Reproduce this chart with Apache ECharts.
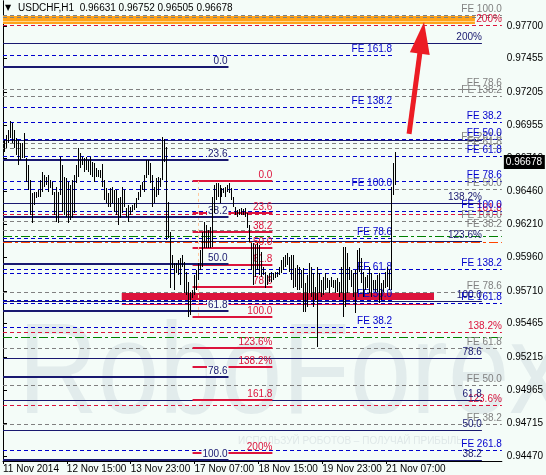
<!DOCTYPE html>
<html>
<head>
<meta charset="utf-8">
<script src="https://cdn.jsdelivr.net/npm/echarts@6.0.0/dist/echarts.min.js"></script>
<style>
html, body { margin: 0; padding: 0; background: #f4fcf8; }
#chart { width: 546px; height: 475px; }
</style>
</head>
<body>
<div id="chart"></div>
<script>
// USDCHF H1 with fibo levels, 11-21 Nov 2014
var symbol = 'USDCHF,H1';
var lastBar = [0.96631, 0.96752, 0.96505, 0.96678]; // open, high, low, close

var timeLabels = ['11 Nov 2014', '12 Nov 15:00', '13 Nov 23:00', '17 Nov 07:00', '18 Nov 15:00', '19 Nov 23:00', '21 Nov 07:00'];
var timeTickBars = [0, 32, 64, 96, 128, 160, 192];
var priceTicks = [0.97700, 0.97455, 0.97205, 0.96955, 0.96710, 0.96460, 0.96210, 0.95960, 0.95710, 0.95465, 0.95215, 0.94965, 0.94715, 0.94470];

var barHigh = [
  0.96844, 0.96881, 0.96919, 0.96986, 0.96971, 0.96919, 0.96859, 0.96844, 0.96821, 0.96821,
  0.96896, 0.96708, 0.96656, 0.96543, 0.96446, 0.96453, 0.96453, 0.96468, 0.96543, 0.96603,
  0.96581, 0.96566, 0.96581, 0.96543, 0.96528, 0.96453, 0.96491, 0.96453, 0.96716, 0.96656,
  0.96566, 0.96558, 0.96528, 0.96506, 0.96543, 0.96581, 0.96656, 0.96784, 0.96746, 0.96716,
  0.96708, 0.96716, 0.96693, 0.96716, 0.96678, 0.96671, 0.96633, 0.96618, 0.96618, 0.96663,
  0.96543, 0.96483, 0.96446, 0.96483, 0.96491, 0.96468, 0.96468, 0.96408, 0.96416, 0.96491,
  0.96468, 0.96333, 0.96355, 0.96340, 0.96355, 0.96370, 0.96408, 0.96453, 0.96506, 0.96528,
  0.96581, 0.96693, 0.96693, 0.96671, 0.96581, 0.96491, 0.96558, 0.96566, 0.96558, 0.96866,
  0.96851, 0.96791, 0.96378, 0.96153, 0.95980, 0.95920, 0.95920, 0.95942, 0.95957, 0.95980,
  0.95927, 0.95852, 0.95777, 0.95702, 0.95717, 0.95830, 0.95867, 0.95920, 0.96018, 0.96153,
  0.96228, 0.96205, 0.96168, 0.96190, 0.96416, 0.96506, 0.96521, 0.96521, 0.96506, 0.96483,
  0.96483, 0.96491, 0.96506, 0.96521, 0.96483, 0.96416, 0.96340, 0.96318, 0.96325, 0.96333,
  0.96325, 0.96333, 0.96295, 0.96205, 0.96070, 0.96070, 0.96055, 0.96070, 0.96055, 0.96003,
  0.95890, 0.95852, 0.95830, 0.95845, 0.95852, 0.95845, 0.95852, 0.95852, 0.95890, 0.95942,
  0.95965, 0.95980, 0.95995, 0.95965, 0.95980, 0.95980, 0.95882, 0.95905, 0.95890, 0.95867,
  0.95882, 0.95770, 0.95830, 0.95920, 0.95890, 0.95845, 0.95740, 0.95890, 0.95845, 0.95792,
  0.95815, 0.95845, 0.95807, 0.95792, 0.95815, 0.95792, 0.95792, 0.95807, 0.95777, 0.95890,
  0.96040, 0.96040, 0.95995, 0.95890, 0.95867, 0.95845, 0.95867, 0.96018, 0.96033, 0.95957,
  0.95852, 0.95815, 0.95830, 0.95890, 0.95845, 0.95792, 0.95792, 0.95830, 0.95845, 0.95770,
  0.95792, 0.95852, 0.95890, 0.95867, 0.96491, 0.96671, 0.96752
];
var barLow = [
  0.96754, 0.96784, 0.96821, 0.96859, 0.96821, 0.96784, 0.96731, 0.96656, 0.96693, 0.96708,
  0.96708, 0.96528, 0.96468, 0.96280, 0.96220, 0.96355, 0.96408, 0.96416, 0.96416, 0.96453,
  0.96491, 0.96506, 0.96453, 0.96483, 0.96431, 0.96280, 0.96228, 0.96220, 0.96431, 0.96303,
  0.96280, 0.96265, 0.96220, 0.96243, 0.96258, 0.96295, 0.96521, 0.96566, 0.96633, 0.96656,
  0.96603, 0.96618, 0.96603, 0.96581, 0.96566, 0.96528, 0.96566, 0.96566, 0.96558, 0.96491,
  0.96393, 0.96370, 0.96340, 0.96340, 0.96370, 0.96303, 0.96280, 0.96205, 0.96258, 0.96295,
  0.96340, 0.96265, 0.96228, 0.96280, 0.96303, 0.96318, 0.96333, 0.96393, 0.96416, 0.96468,
  0.96453, 0.96558, 0.96581, 0.96521, 0.96340, 0.96370, 0.96416, 0.96431, 0.96491, 0.96543,
  0.96678, 0.96093, 0.96108, 0.95732, 0.95882, 0.95717, 0.95845, 0.95830, 0.95755, 0.95890,
  0.95695, 0.95680, 0.95514, 0.95529, 0.95657, 0.95680, 0.95717, 0.95792, 0.95867, 0.95890,
  0.96033, 0.96033, 0.96033, 0.96033, 0.96040, 0.96295, 0.96393, 0.96416, 0.96370, 0.96416,
  0.96446, 0.96416, 0.96453, 0.96446, 0.96393, 0.96340, 0.96280, 0.96265, 0.96280, 0.96280,
  0.96280, 0.96265, 0.96183, 0.96078, 0.95867, 0.95755, 0.95815, 0.95867, 0.95830, 0.95815,
  0.95830, 0.95732, 0.95755, 0.95777, 0.95777, 0.95792, 0.95807, 0.95815, 0.95830, 0.95845,
  0.95867, 0.95890, 0.95905, 0.95852, 0.95792, 0.95732, 0.95740, 0.95717, 0.95717, 0.95732,
  0.95552, 0.95552, 0.95589, 0.95695, 0.95665, 0.95589, 0.95642, 0.95289, 0.95695, 0.95665,
  0.95680, 0.95717, 0.95732, 0.95695, 0.95740, 0.95732, 0.95695, 0.95702, 0.95665, 0.95695,
  0.95514, 0.95589, 0.95695, 0.95792, 0.95740, 0.95665, 0.95544, 0.95695, 0.95852, 0.95770,
  0.95665, 0.95717, 0.95732, 0.95695, 0.95665, 0.95717, 0.95702, 0.95702, 0.95619, 0.95642,
  0.95702, 0.95732, 0.95740, 0.95717, 0.95717, 0.96431, 0.96505
];

// fibo retracement (navy, thick)
var navyFiboLevels = [0.97392, 0.96693, 0.96265, 0.95912, 0.95559, 0.95064, 0.94440];
var navyFiboLabels = ['0.0', '23.6', '38.2', '50.0', '61.8', '78.6', '100.0'];
// fibo retracement (red)
var redFiboLevels = [0.96536, 0.96295, 0.96153, 0.96033, 0.95905, 0.95740, 0.95514, 0.95282, 0.95139, 0.94891, 0.94493];
var redFiboLabels = ['0.0', '23.6', '38.2', '50.0', '61.8', '78.6', '100.0', '123.6%', '138.2%', '161.8', '200%'];
// fibo expansion, blue, short
var feShortLevels = [0.97482, 0.97091, 0.96476, 0.96108, 0.95845, 0.95642, 0.95439];
var feShortLabels = ['FE 161.8', 'FE 138.2', 'FE 100.0', 'FE 78.6', 'FE 61.8', 'FE 50.0', 'FE 38.2'];
// fibo expansion, blue, to the right edge
var feLongLevels = [0.96979, 0.96851, 0.96723, 0.96536, 0.96310, 0.95875, 0.95620, 0.94516];
var feLongLabels = ['FE 38.2', 'FE 50.0', 'FE 61.8', 'FE 78.6', 'FE 100.0', 'FE 138.2', 'FE 161.8', 'FE 261.8'];
// fibo expansion, gray
var feGrayLevels = [0.97782, 0.97767, 0.97227, 0.97174, 0.96821, 0.96784, 0.96476, 0.96235, 0.96168, 0.95702, 0.95282, 0.95004, 0.94711];
var feGrayLabels = ['FE 100.0', '', 'FE 78.6', 'FE 138.2', 'FE 261.8', 'FE 61.8', 'FE 50.0', 'FE 100.0', 'FE 38.2', 'FE 78.6', 'FE 61.8', 'FE 50.0', 'FE 38.2'];
// fibo expansion, navy thin
var navyThinLevels = [0.97572, 0.96844, 0.96371, 0.96085, 0.95635, 0.95206, 0.94891, 0.94666, 0.94440];
var navyThinLabels = ['200%', '', '138.2%', '123.6%', '100.0', '78.6', '61.8', '50.0', '38.2'];
// fibo expansion, red dashed
var redDashLevels = [0.97707, 0.96288, 0.95402, 0.94853];
var redDashLabels = ['200%', '161.8', '138.2%', '123.6%'];
// orders
var orderLevels = [0.96123, 0.96078, 0.95364, 0.94711];
var orderLabels = ['#9770318 buy 0.10', '#9770318 sl', '#9265962 buy 0.10', '#9402950 buy 0.10'];
var greenOrderLevels = [0.96123, 0.95364];
var stopLevels = [0.96078];
// zones
var orangeZone = [0.97775, 0.97715, 0.97737];
var redZone = [0.95695, 0.95642, 0.95612];
var retraceTrend = [97.5, 0.96536, 0.95514];
var arrowFromTo = [203.5, 0.96889, 211, 0.97730];

var FONT = '10px "Liberation Sans", Arial, sans-serif';
var BG = '#f4fcf8';
var chart = echarts.init(document.getElementById('chart'));

function levelSeries(levels, labels, o) {
  return {
    type: 'custom',
    silent: true,
    z: o.z || 3,
    data: levels.map(function (v, i) { return [o.from, v, i]; }),
    encode: { x: 0, y: 1 },
    renderItem: function (params, api) {
      var v = api.value(1), i = api.value(2);
      var a = api.coord([o.from, v]), b = api.coord([o.to, v]);
      var y = Math.round(a[1]) + (o.width % 2 ? 0.5 : 0);
      var kids = [];
      if (o.line !== false) {
        kids.push({
          type: 'line',
          shape: { x1: a[0], y1: y, x2: b[0], y2: y },
          style: { stroke: o.color, lineWidth: o.width, lineDash: o.dash || null }
        });
      }
      if (labels[i]) {
        var t = {
          text: labels[i], x: o.textX != null ? api.coord([o.textX, v])[0] : b[0], y: Math.round(a[1]) - Math.ceil(o.width / 2),
          fill: o.textColor || o.color, font: FONT,
          align: o.align || 'right', verticalAlign: 'bottom',
          textAlign: o.align || 'right', textVerticalAlign: 'bottom'
        };
        if (o.bg) { t.backgroundColor = o.bg; t.padding = [0, 1, 0, 1]; }
        kids.push({ type: 'text', z2: 5, style: t });
      }
      return { type: 'group', children: kids };
    }
  };
}

function zoneSeries(zone, x0, x1, fill, stripe) {
  return {
    type: 'custom', silent: true, z: 2,
    data: [[x0, zone[0]]],
    renderItem: function (params, api) {
      var a = api.coord([x0, zone[0]]), b = api.coord([x1, zone[1]]);
      var s = api.coord([x0, zone[2]]), e = api.coord([x1, zone[2]]);
      var sy = Math.round(s[1]) + 0.5;
      return { type: 'group', children: [
        { type: 'rect', shape: { x: a[0], y: a[1], width: b[0] - a[0], height: b[1] - a[1] }, style: { fill: fill } },
        { type: 'line', shape: { x1: s[0], y1: sy, x2: e[0], y2: sy }, style: { stroke: stripe, lineWidth: 1 } }
      ] };
    }
  };
}

var series = [];

// zones under everything
series.push(zoneSeries(orangeZone, 0, 236.5, '#ffa31a', '#ffd68a'));
series.push(zoneSeries(redZone, 59.5, 216, '#dc143c', '#dc143c'));

// fibo lines
series.push(levelSeries(feGrayLevels, feGrayLabels, { from: 0, to: 250, color: '#808080', width: 1, dash: [4, 3] }));
series.push(levelSeries(redDashLevels, redDashLabels, { from: 0, to: 250, color: '#dc143c', width: 1, dash: [4, 3] }));
series.push(levelSeries(feLongLevels, feLongLabels, { from: 0, to: 250, color: '#0000cd', width: 1, dash: [4, 3] }));
series.push(levelSeries(feShortLevels, feShortLabels, { from: 0, to: 195, color: '#0000cd', width: 1, dash: [4, 3] }));
series.push(levelSeries(greenOrderLevels, [], { from: 0, to: 250, color: '#008000', width: 1, dash: [9, 3, 3, 3] }));
series.push(levelSeries(stopLevels, [], { from: 0, to: 250, color: '#ff4500', width: 1, dash: [9, 3, 3, 3] }));
series.push(levelSeries(navyThinLevels, navyThinLabels, { from: 0, to: 240, color: '#191970', width: 1 }));
series.push(levelSeries(redFiboLevels, redFiboLabels, { from: 95, to: 135, color: '#dc143c', width: 2 }));
series.push(levelSeries(navyFiboLevels, navyFiboLabels, { from: 0, to: 113, color: '#191970', width: 2, bg: BG, z: 4 }));
series.push(levelSeries(orderLevels, orderLabels, { from: 3.5, to: 250, line: false, textX: 3.5, align: 'left', color: '#3a3a3a' }));

// retracement trend line
series.push({
  type: 'custom', silent: true, z: 3,
  data: [retraceTrend],
  renderItem: function (params, api) {
    var a = api.coord([retraceTrend[0], retraceTrend[1]]), b = api.coord([retraceTrend[0], retraceTrend[2]]);
    var x = Math.round(a[0]) + 0.5;
    return { type: 'line', shape: { x1: x, y1: a[1], x2: x, y2: b[1] }, style: { stroke: '#ffc9a0', lineWidth: 1, lineDash: [3, 3] } };
  }
});

// price bars
series.push({
  type: 'custom', silent: true, z: 6,
  data: barHigh.map(function (h, i) { return [i + 0.5, barLow[i], h]; }),
  encode: { x: 0, y: [1, 2] },
  renderItem: function (params, api) {
    var lo = api.coord([api.value(0), api.value(1)]);
    var hi = api.coord([api.value(0), api.value(2)]);
    var x = Math.round(lo[0]) + 0.5;
    return { type: 'line', shape: { x1: x, y1: Math.round(lo[1]), x2: x, y2: Math.round(hi[1]) }, style: { stroke: '#000', lineWidth: 1 } };
  }
});

// red arrow
series.push({
  type: 'custom', silent: true, z: 8,
  data: [arrowFromTo],
  renderItem: function (params, api) {
    var s = api.coord([arrowFromTo[0], arrowFromTo[1]]);
    var t = api.coord([arrowFromTo[2], arrowFromTo[3]]);
    var dx = t[0] - s[0], dy = t[1] - s[1], len = Math.sqrt(dx * dx + dy * dy);
    var ux = dx / len, uy = dy / len, nx = -uy, ny = ux;
    var head = 32, half = 10;
    var bx = t[0] - ux * head, by = t[1] - uy * head;
    return { type: 'group', children: [
      { type: 'line', shape: { x1: s[0], y1: s[1], x2: bx + ux * 3, y2: by + uy * 3 }, style: { stroke: '#ec1c24', lineWidth: 5 } },
      { type: 'polygon', shape: { points: [[t[0], t[1]], [bx + nx * half, by + ny * half], [bx - nx * half, by - ny * half]] }, style: { fill: '#ec1c24' } }
    ] };
  }
});

// current price box on the axis
series.push({
  type: 'custom', silent: true, z: 9, clip: false,
  data: [[250, lastBar[3]]],
  renderItem: function (params, api) {
    var p = api.coord([250, lastBar[3]]);
    var y = Math.round(p[1]);
    return { type: 'group', children: [
      { type: 'rect', shape: { x: p[0] + 2, y: y - 7, width: 41, height: 14 }, style: { fill: '#000' } },
      { type: 'text', style: { text: lastBar[3].toFixed(5), x: p[0] + 4, y: y, fill: '#fff', font: FONT, align: 'left', verticalAlign: 'middle', textAlign: 'left', textVerticalAlign: 'middle' } }
    ] };
  }
});

var option = {
  backgroundColor: BG,
  animation: false,
  grid: { left: 3, right: 43, top: 1, bottom: 14 },
  xAxis: {
    type: 'value', min: 0, max: 250,
    splitLine: { show: false },
    axisLine: { lineStyle: { color: '#000', width: 1 } },
    axisTick: { length: 3, lineStyle: { color: '#000' }, customValues: timeTickBars },
    axisLabel: {
      customValues: timeTickBars,
      color: '#000', fontFamily: 'Liberation Sans', fontSize: 10, align: 'left', margin: 3,
      formatter: function (v) { var k = timeTickBars.indexOf(Math.round(v)); return k >= 0 ? timeLabels[k] : ''; }
    }
  },
  yAxis: [{
    type: 'value', position: 'right', min: 0.94433, max: 0.97887, scale: true,
    splitLine: { show: false },
    axisLine: { show: true, lineStyle: { color: '#000', width: 1 } },
    axisTick: { show: true, length: 4, lineStyle: { color: '#000' }, customValues: priceTicks },
    axisLabel: {
      customValues: priceTicks,
      color: '#000', fontFamily: 'Liberation Sans', fontSize: 10, margin: 5,
      formatter: function (v) { return v.toFixed(5); }
    }
  }, {
    type: 'value', position: 'left', min: 0.94433, max: 0.97887, scale: true,
    splitLine: { show: false },
    axisLine: { show: true, lineStyle: { color: '#000', width: 1 } },
    axisTick: { show: false }, axisLabel: { show: false }
  }],
  graphic: [
    { type: 'text', z: -10, x: 18, y: 312, scaleX: 0.85, style: { text: 'RoboForex', font: '130px "Liberation Sans", Arial, sans-serif', fill: '#e2ecec' } },
    { type: 'text', z: -10, left: 238, top: 436, style: { text: 'ИСПОЛЬЗУЙ РОБОТОВ – ПОЛУЧАЙ ПРИБЫЛЬ', font: '10px "Liberation Sans", Arial, sans-serif', fill: '#dfe8e8' } },
    { type: 'text', z: 20, left: 5, top: 4, style: { text: '\u25BC', font: '8px "DejaVu Sans", sans-serif', fill: '#000' } },
    { type: 'text', z: 20, left: 18, top: 3, style: { text: symbol + '  ' + lastBar.map(function (v) { return v.toFixed(5); }).join(' '), font: FONT, fill: '#000' } }
  ],
  series: series
};

chart.setOption(option);
</script>
</body>
</html>
